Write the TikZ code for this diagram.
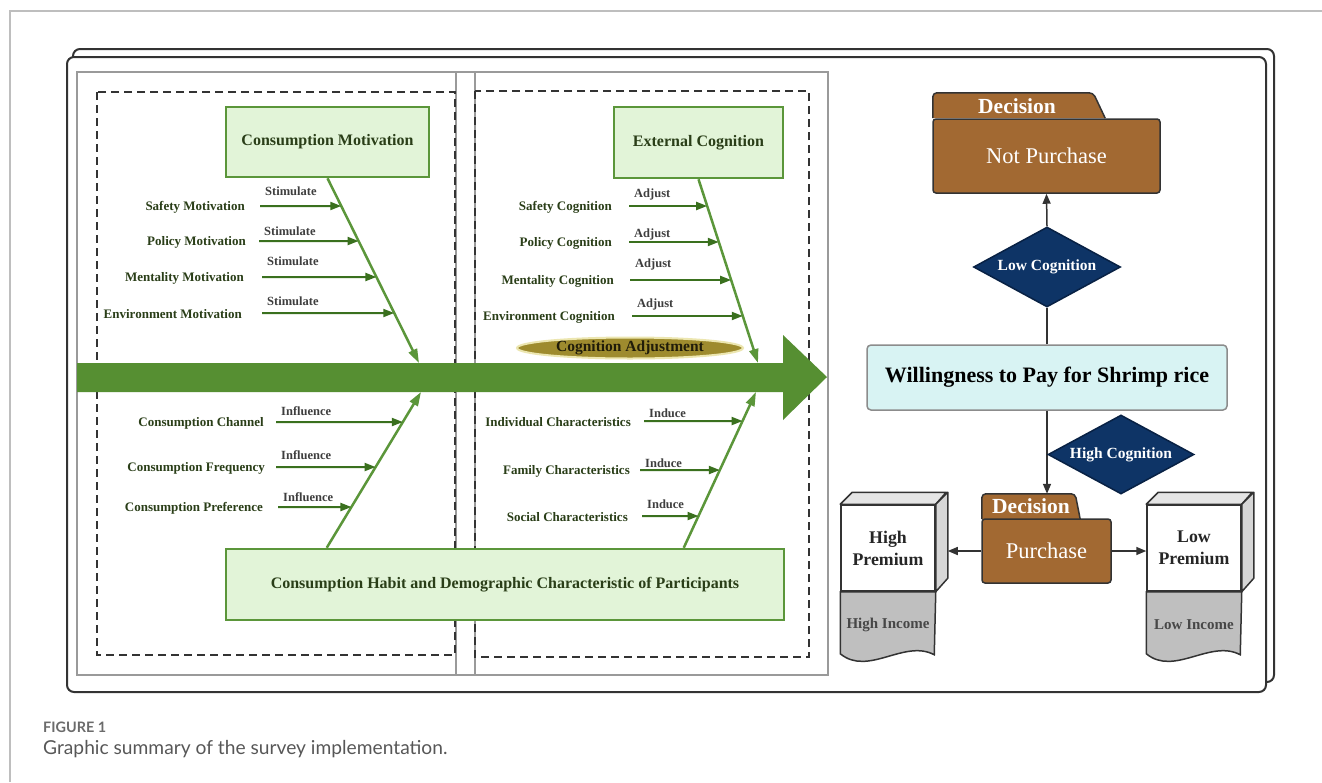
\documentclass[tikz,border=0pt]{standalone}
\usepackage{fontspec}
\setmainfont{Liberation Serif}
\newfontfamily\capfont{Lato}
\usetikzlibrary{arrows.meta,shapes.geometric,calc}

\definecolor{bonegreen}{RGB}{91,150,58}
\definecolor{ribgreen}{RGB}{58,112,30}
\definecolor{spinegreen}{RGB}{86,143,50}
\definecolor{boxfill}{RGB}{226,244,216}
\definecolor{txtgreen}{RGB}{42,62,24}
\definecolor{verbgray}{RGB}{62,62,62}
\definecolor{olivefill}{RGB}{158,139,46}
\definecolor{oliveglow}{RGB}{236,230,176}
\definecolor{foldbrown}{RGB}{162,105,50}
\definecolor{navyfill}{RGB}{14,52,102}
\definecolor{navyedge}{RGB}{8,33,68}
\definecolor{cyanfill}{RGB}{216,243,243}
\definecolor{framedark}{RGB}{51,51,51}
\definecolor{panegray}{RGB}{154,154,154}
\definecolor{pagegray}{RGB}{190,190,190}

% one rib of the fishbone: label, arrow onto the bone, verb above the arrow
% #1 id, #2 label, #3 verb, #4 label right x, #5 arrow start x, #6 arrow y, #7 bone id, #8 verb y
\newcommand\fishrib[8]{%
  \node[ribtxt] (#1) at (#4,#6+1) {#2};
  \coordinate (#1s) at (#5,#6);
  \coordinate (#1e) at (intersection of #7s--#7e and 0,#6--900,#6);
  \draw[rib] (#1s) -- (#1e);
  \node[verb] (#1v) at (#5+5,#8) {#3};
}

\begin{document}
\begin{tikzpicture}[x=1pt,y=-1pt,
  fishbox/.style={draw=bonegreen, line width=2.5, fill=boxfill, text=txtgreen,
    font=\fontsize{16}{18}\selectfont\bfseries, inner sep=0},
  ribtxt/.style={anchor=east, text=txtgreen, font=\fontsize{13}{15}\selectfont\bfseries, inner sep=0},
  verb/.style={anchor=west, text=verbgray, font=\fontsize{12.5}{14}\selectfont\bfseries, inner sep=0},
  rib/.style={draw=ribgreen, line width=2, -{Triangle[length=11,width=8]}},
  bone/.style={draw=bonegreen, line width=2.5, -{Triangle[length=14,width=9]}},
  folder/.style={fill=foldbrown, draw=framedark, line width=1.5, rounded corners=3, inner sep=0,
    text=white, font=\fontsize{22.5}{25}\selectfont},
  foldtitle/.style={text=white, font=\fontsize{21.5}{24}\selectfont\bfseries, inner sep=0},
  decide/.style={diamond, aspect=1.85, fill=navyfill, draw=navyedge, line width=1.5, inner sep=0,
    text=white, font=\fontsize{15.5}{17}\selectfont\bfseries},
  conn/.style={draw=framedark, line width=1.5, -{Triangle[length=10,width=8]}},
  plain/.style={draw=framedark, line width=1.5},
  cubeface/.style={fill=white, draw=framedark, line width=1.5, inner sep=0,
    text=black!85, align=center, font=\fontsize{17.8}{22}\selectfont\bfseries},
  docshape/.style={fill=black!25, draw=framedark, line width=1.5},
  doctext/.style={text=black!72, font=\fontsize{15}{17}\selectfont\bfseries, inner sep=0}
]
\useasboundingbox (0,0) rectangle (1322,782);

% page edge
\draw[pagegray, line width=1.5] (10,782) -- (10,11) -- (1322,11);

% stacked outer frames
\draw[framedark, line width=2, fill=white, rounded corners=7] (73,49) rectangle (1274,682);
\draw[framedark, line width=2, fill=white, rounded corners=7] (67,57) rectangle (1266,692);

% fishbone pane with its divider and dashed groups
\draw[panegray, line width=1.5] (77,72) rectangle (828,675);
\draw[panegray, line width=1.5] (456,72) -- (456,675) (475,72) -- (475,675);
\draw[framedark, line width=1.6, dash pattern=on 8pt off 5pt] (97,92) rectangle (455,655);
\draw[framedark, line width=1.6, dash pattern=on 8pt off 5pt] (475,91) rectangle (809,657);

% head boxes
\node[fishbox, minimum width=203, minimum height=70] (boxcm) at (327.5,142) {Consumption Motivation};
\node[fishbox, minimum width=169, minimum height=71] (boxec) at (698.5,142.5) {External Cognition};
\node[fishbox, minimum width=558, minimum height=71] (boxhb) at (505,584.5)
  {Consumption Habit and Demographic Characteristic of Participants};

% spine
\fill[spinegreen] (77,363) -- (783,363) -- (783,335) -- (827,377) -- (783,420) -- (783,392) -- (77,392) -- cycle;

% bones
\coordinate (b1s) at (boxcm.south);
\coordinate (b1e) at (419,363);
\coordinate (b2s) at (boxec.south);
\coordinate (b2e) at (758,363);
\coordinate (b3s) at ($(boxhb.north west)+(102,0)$);
\coordinate (b3e) at (421,392);
\coordinate (b4s) at ($(boxhb.north west)+(459,0)$);
\coordinate (b4e) at (756,392);
\draw[bone] (b1s) -- (b1e);
\draw[bone] (b2s) -- (b2e);
\draw[bone] (b3s) -- (b3e);
\draw[bone] (b4s) -- (b4e);

% ribs
\fishrib{sm}{Safety Motivation}{Stimulate}{245}{260}{206}{b1}{191}
\fishrib{pm}{Policy Motivation}{Stimulate}{246}{259}{241}{b1}{231}
\fishrib{mm}{Mentality Motivation}{Stimulate}{244}{262}{277}{b1}{261}
\fishrib{em}{Environment Motivation}{Stimulate}{242}{262}{313}{b1}{301}

\fishrib{sc}{Safety Cognition}{Adjust}{612}{629}{206}{b2}{194}
\fishrib{pc}{Policy Cognition}{Adjust}{612}{629}{242}{b2}{234}
\fishrib{mc}{Mentality Cognition}{Adjust}{614}{630}{280}{b2}{264}
\fishrib{enc}{Environment Cognition}{Adjust}{615}{632}{316}{b2}{304}

\fishrib{cch}{Consumption Channel}{Influence}{264}{276}{422}{b3}{411}
\fishrib{cfr}{Consumption Frequency}{Influence}{265}{276}{467}{b3}{455}
\fishrib{cpr}{Consumption Preference}{Influence}{263}{278}{507}{b3}{497}

\fishrib{ich}{Individual Characteristics}{Induce}{631}{644}{421}{b4}{413}
\fishrib{fch}{Family Characteristics}{Induce}{630}{640}{470}{b4}{463}
\fishrib{sch}{Social Characteristics}{Induce}{628}{642}{516}{b4}{504}

% cognition adjustment badge
\node[ellipse, fill=olivefill, draw=oliveglow, line width=2, minimum width=226, minimum height=21,
  inner sep=0, text=black!80!olivefill, font=\fontsize{15.5}{17}\selectfont\bfseries]
  (cadj) at (630,348) {Cognition Adjustment};

% decision: not purchase
\node[inner sep=0, minimum width=172, minimum height=25] (nptab) at (1019,105.5) {};
\draw[fill=foldbrown, draw=framedark, line width=1.5, rounded corners=4]
  (nptab.south west) -- (nptab.north west) -- ($(nptab.north east)+(-12,0)$)
  [sharp corners] -- (nptab.south east);
\node[folder, minimum width=227, minimum height=74] (np) at (1046.5,156) {Not Purchase};
\node[foldtitle] (npt) at (1017,106) {Decision};

% central outcome
\node[decide, minimum width=147, minimum height=80] (lc) at (1047,267) {Low Cognition};
\node[fill=cyanfill, draw=black!45, line width=1.5, rounded corners=4, inner sep=0,
  minimum width=360, minimum height=65, font=\fontsize{22}{25}\selectfont\bfseries]
  (ws) at (1047,377.5) {Willingness to Pay for Shrimp rice};
\draw[conn] (lc.north) -- (np.south);
\draw[plain] (ws.north) -- (lc.south);

% decision: purchase
\node[inner sep=0, minimum width=98, minimum height=25] (putab) at (1031,506.5) {};
\draw[fill=foldbrown, draw=framedark, line width=1.5, rounded corners=4]
  (putab.south west) -- (putab.north west) -- ($(putab.north east)+(-5,0)$)
  [sharp corners] -- (putab.south east);
\node[folder, minimum width=129, minimum height=64] (pu) at (1046.5,551) {Purchase};
\node[foldtitle] (put) at (putab.center) {Decision};
\draw[conn] (ws.south) -- (ws.south |- putab.north);
\node[decide, minimum width=146, minimum height=79] (hc) at (1121,454.5) {High Cognition};

% premium blocks with income slips
\foreach \id/\cx/\top/\slip in {hp/888/High/High Income, lp/1194/Low/Low Income}{
  \node[cubeface, minimum width=94, minimum height=86] (\id) at (\cx,548) {\top\\Premium};
  \draw[fill=black!10, draw=framedark, line width=1.5, line join=round]
    (\id.north west) -- ++(12,-12) -- ++(94,0) -- (\id.north east) -- cycle;
  \draw[fill=black!16, draw=framedark, line width=1.5, line join=round]
    (\id.north east) -- ++(12,-12) -- ++(0,86) -- (\id.south east) -- cycle;
  \draw[docshape] (\id.south west) -- ++(0,62) .. controls ++(28,23) and ++(-30,-16) .. ++(94,1)
    -- (\id.south east) -- cycle;
  \node[doctext] (\id i) at (\cx,624.5) {\slip};
}
\draw[conn] (pu.west) -- ($(pu.west -| hp.east)+(12,0)$);
\draw[conn] (pu.east) -- (pu.east -| lp.west);

% caption
\node[anchor=west, inner sep=0, text=black!58, font=\capfont\fontsize{14.4}{16}\selectfont\bfseries]
  (fig) at (43,727) {FIGURE 1};
\node[anchor=west, inner sep=0, text=black!66, font=\capfont\fontsize{19.2}{21}\selectfont]
  (cap) at (43,749) {Graphic summary of the survey implementation.};
\end{tikzpicture}
\end{document}
